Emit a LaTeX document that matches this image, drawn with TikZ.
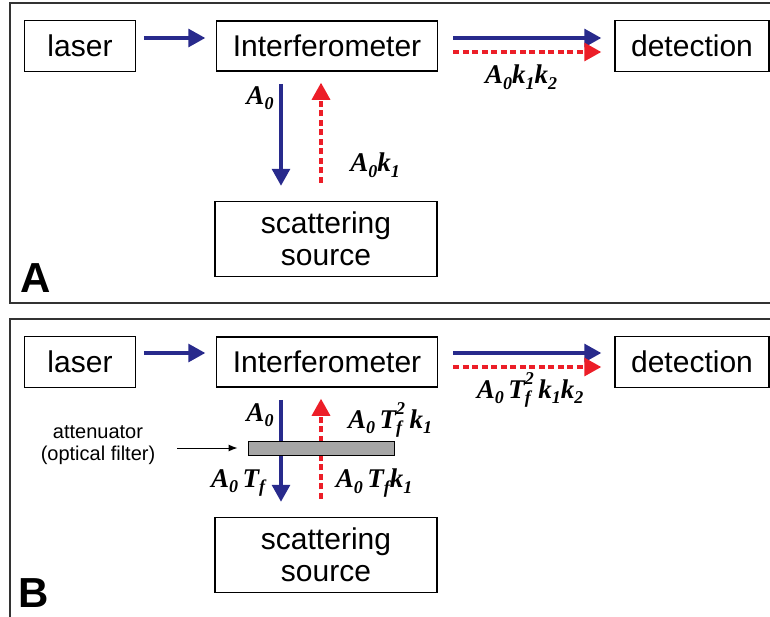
\documentclass[tikz,border=0pt]{standalone}
\usepackage{fontspec}
\setmainfont{Liberation Sans}
\newfontfamily\lblfont{Liberation Serif}
\usepackage{xcolor}
\usepackage{tikz}
\usetikzlibrary{positioning}
\usetikzlibrary{arrows.meta}
\definecolor{beamblue}{RGB}{40,42,140}
\definecolor{beamred}{RGB}{236,30,40}
\tikzset{beam/.style = {line width=3.2pt,-{Triangle[length=17pt,width=18pt]}}}
\newcommand{\lsub}[1]{\raisebox{-0.45ex}{\fontsize{18}{18}\selectfont #1}}
\newcommand{\lsup}[1]{\raisebox{1.1ex}{\fontsize{18}{18}\selectfont #1}}
\newcommand{\amp}[1]{{\lblfont\bfseries\itshape #1}}
\newcommand{\Tf}{T\rlap{\lsub{f}}\lsup{2}\,}

\begin{document}
\begin{tikzpicture}[x=1pt,y=-1pt,
    box/.style={draw,line width=1.5pt,inner sep=0pt,align=center,font=\fontsize{30}{32}\selectfont},
    frame/.style={draw=black!80,line width=2pt},
    lbl/.style={inner sep=0pt,font=\fontsize{27}{29}\selectfont},
    tag/.style={inner sep=0pt,font=\fontsize{42}{44}\selectfont\bfseries},
    blueb/.style={beam,beamblue},
    redb/.style={beam,beamred,dash pattern=on 6pt off 3.5pt}]
  \path[use as bounding box,clip] (0,0) rectangle (770,616);
  % panel A
  \draw[frame] (10,3) rectangle (790,303);
  \node[box,minimum width=111pt,minimum height=51pt] (laserA) at (80,46) {laser};
  \node[box,minimum width=221pt,minimum height=50pt] (intfA) at (327,46) {Interferometer};
  \node[box,minimum width=154pt,minimum height=51pt] (detA) at (692,46) {detection};
  \node[box,minimum width=222pt,minimum height=75pt] (scatA) at (326,239) {scattering\\source};
  \node[tag] (tagA) at (36,278) {A};
  \draw[blueb,shorten <=7.5pt,shorten >=10.5pt] ([yshift=8pt]laserA.east) -- ([yshift=8pt]intfA.west);
  \draw[blueb,shorten <=15pt,shorten >=13pt] ([yshift=8pt]intfA.east) -- ([yshift=8pt]detA.west);
  \draw[redb,shorten <=15pt,shorten >=13pt] ([yshift=-6pt]intfA.east) -- ([yshift=-6pt]detA.west);
  \draw[blueb,shorten <=12pt,shorten >=15pt] ([xshift=-46pt]intfA.south) -- ([xshift=-45pt]scatA.north);
  \draw[redb,shorten <=18pt,shorten >=11pt] ([xshift=-5pt]scatA.north) -- ([xshift=-6pt]intfA.south);
  \node[lbl] (a0A) at (260,98) {\amp{A\lsub{0}}};
  \node[lbl] (a0k1A) at (375,165) {\amp{A\lsub{0}k\lsub{1}}};
  \node[lbl] (a0k1k2A) at (521,77) {\amp{A\lsub{0}k\lsub{1}k\lsub{2}}};
  % panel B
  \draw[frame] (10,319) rectangle (790,630);
  \node[box,minimum width=111pt,minimum height=51pt] (laserB) at (80,362) {laser};
  \node[box,minimum width=221pt,minimum height=50pt] (intfB) at (327,362) {Interferometer};
  \node[box,minimum width=154pt,minimum height=51pt] (detB) at (692,362) {detection};
  \node[box,minimum width=222pt,minimum height=75pt] (scatB) at (326,555) {scattering\\source};
  \node[tag] (tagB) at (34,593) {B};
  \draw[blueb,shorten <=7.5pt,shorten >=10.5pt] ([yshift=9pt]laserB.east) -- ([yshift=9pt]intfB.west);
  \draw[blueb,shorten <=15pt,shorten >=13pt] ([yshift=9pt]intfB.east) -- ([yshift=9pt]detB.west);
  \draw[redb,shorten <=15pt,shorten >=13pt] ([yshift=-5pt]intfB.east) -- ([yshift=-5pt]detB.west);
  \draw[blueb,shorten <=12pt,shorten >=15pt] ([xshift=-46pt]intfB.south) -- ([xshift=-45pt]scatB.north);
  \draw[redb,shorten <=18pt,shorten >=11pt] ([xshift=-5pt]scatB.north) -- ([xshift=-6pt]intfB.south);
  \node[draw,line width=1pt,fill=black!35,minimum width=146pt,minimum height=14pt,inner sep=0pt] (filter) at (321,448) {};
  \node[inner sep=0pt,align=center,font=\fontsize{20}{22}\selectfont] (atten) at (98,445) {attenuator\\(optical filter)};
  \draw[line width=1pt,-{Latex[length=9pt,width=7pt]},shorten <=22pt,shorten >=10pt] (atten.east |- filter.west) -- (filter.west);
  \node[lbl] (a0B) at (260,415) {\amp{A\lsub{0}}};
  \node[lbl] (a0tf2k1B) at (390,420) {\amp{A\lsub{0}\,\Tf k\lsub{1}}};
  \node[lbl] (a0tfB) at (238,483) {\amp{A\lsub{0}\,T\lsub{f}}};
  \node[lbl] (a0tfk1B) at (374,483) {\amp{A\lsub{0}\,T\lsub{f}k\lsub{1}}};
  \node[lbl] (a0tf2k1k2B) at (530,390) {\amp{A\lsub{0}\,\Tf k\lsub{1}k\lsub{2}}};
\end{tikzpicture}
\end{document}
